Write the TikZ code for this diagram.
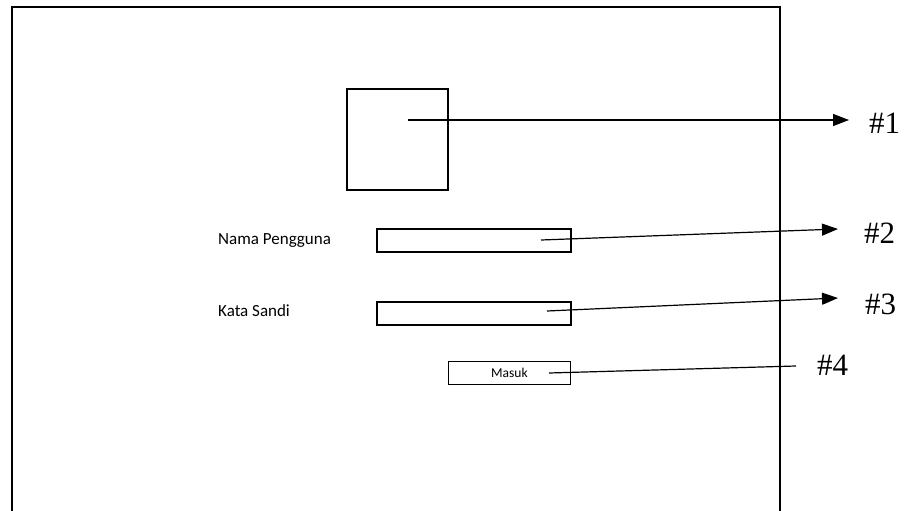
\documentclass[tikz,border=0pt]{standalone}
\usepackage{fontspec}
\setmainfont{Liberation Serif}
\newfontfamily\calfont{Carlito}
\usetikzlibrary{arrows.meta}
\begin{document}
\begin{tikzpicture}[x=1pt,y=-1pt,
  thick2/.style={draw=black,line width=2pt},
  field/.style={draw=black,line width=2pt,minimum width=194pt,minimum height=23pt,inner sep=0pt,anchor=north west},
  lbl/.style={font=\calfont\fontsize{17}{19}\selectfont,anchor=west,inner sep=0pt},
  tag/.style={font=\fontsize{31}{33}\selectfont,anchor=west,inner sep=0pt},
  arr/.style={line width=1.2pt,-{Triangle[length=16pt,width=12pt]}},
  lin/.style={line width=1.2pt}]
\useasboundingbox (0,0) rectangle (907,511);
\fill[white] (0,0) rectangle (907,511);
% outer frame (open at bottom)
\draw[thick2] (12,511) -- (12,7) -- (780,7) -- (780,511);
% image box
\node[draw=black,line width=2pt,minimum width=101pt,minimum height=101pt,inner sep=0pt,anchor=north west] (img) at (346,88) {};
% labels and fields
\node[lbl] (l1) at (218,241) {Nama Pengguna};
\node[field] (f1) at (376,228) {};
\node[lbl] (l2) at (218,311) {Kata Sandi};
\node[field] (f2) at (376,300.5) {};
\node[draw=black,line width=0.9pt,minimum width=122pt,minimum height=23pt,inner sep=0pt,anchor=north west,font=\calfont\fontsize{13.5}{15}\selectfont] (btn) at (448,361) {Masuk};
% tags
\node[tag] (t1) at (869,123) {\#1};
\node[tag] (t2) at (864,233) {\#2};
\node[tag] (t3) at (865,304) {\#3};
\node[tag] (t4) at (817,365) {\#4};
% connectors
\coordinate (s1) at (408,120);
\coordinate (s2) at (541,240);
\coordinate (s3) at (547,311);
\coordinate (s4) at (549,373);
\coordinate (e1) at (849,120);
\coordinate (e2) at (838,229);
\coordinate (e3) at (838,298);
\coordinate (e4) at (796,366);
\draw[arr] (s1) -- (e1);
\draw[arr] (s2) -- (e2);
\draw[arr] (s3) -- (e3);
\draw[lin] (s4) -- (e4);
\end{tikzpicture}
\end{document}
